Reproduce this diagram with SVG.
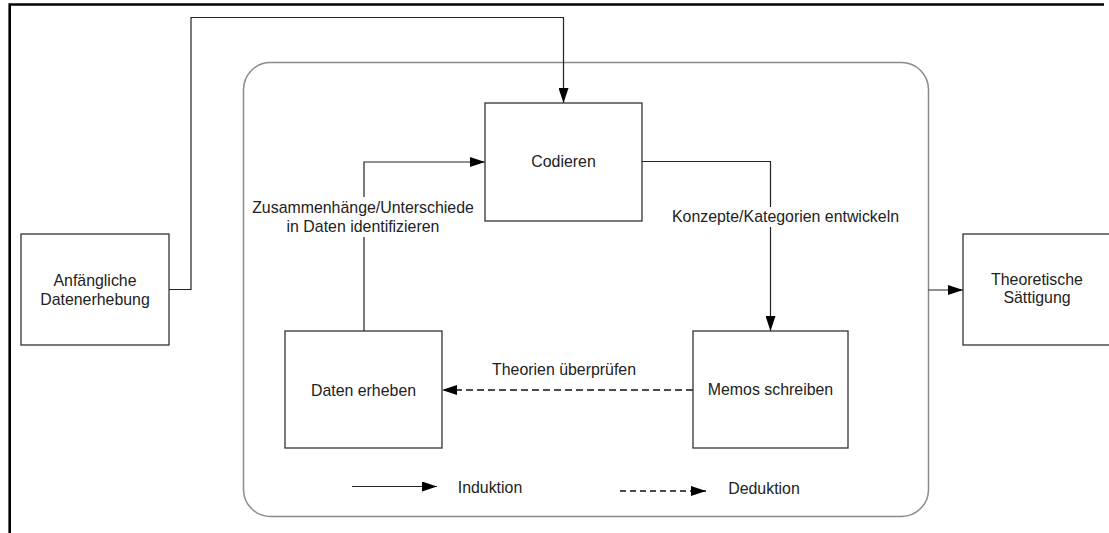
<svg xmlns="http://www.w3.org/2000/svg" width="1109" height="533" viewBox="0 0 1109 533">
  <defs>
    <marker id="arrow" viewBox="0 0 15 10" refX="15" refY="5" markerWidth="15" markerHeight="10" markerUnits="userSpaceOnUse" orient="auto">
      <path d="M0,0 L15,5 L0,10 Z" fill="#000"/>
    </marker>
    <style>
      text { font-family: "Liberation Sans", Arial, sans-serif; font-size: 15.9px; fill: #222; text-anchor: middle; }
      .box { fill: #fff; stroke: #333; stroke-width: 1.3; }
      .link { fill: none; stroke: #222; stroke-width: 1.2; }
      .dash { stroke: #111; stroke-width: 1.4; stroke-dasharray: 7 4; }
      .legdash { stroke: #111; stroke-width: 1.4; stroke-dasharray: 6 4; }
    </style>
  </defs>

  <rect width="1109" height="533" fill="#fff"/>

  <!-- page frame (top and left edges) -->
  <path d="M9.7,533 L9.7,4.5 L1104,4.5" fill="none" stroke="#000" stroke-width="2.6"/>

  <!-- iterative process container -->
  <rect id="process" x="243.5" y="62.5" width="685" height="454" rx="27" ry="27" fill="none" stroke="#8a8a8a" stroke-width="1.5"/>

  <g id="connectors">
    <!-- initial data collection into coding -->
    <path class="link" d="M169,289.5 L191,289.5 L191,17.5 L563.5,17.5 L563.5,103" marker-end="url(#arrow)"/>
    <!-- coding to memos -->
    <path class="link" d="M642,161.5 L770.5,161.5 L770.5,207"/>
    <path class="link" d="M770.5,227 L770.5,331" marker-end="url(#arrow)"/>
    <text x="785.5" y="222">Konzepte/Kategorien entwickeln</text>
    <!-- memos back to data collection -->
    <path class="link dash" d="M693,390 L442,390" marker-end="url(#arrow)"/>
    <text x="564" y="375">Theorien überprüfen</text>
    <!-- data collection to coding -->
    <path class="link" d="M364,331 L364,237"/>
    <path class="link" d="M364,197 L364,162 L485,162" marker-end="url(#arrow)"/>
    <text x="363" y="213">Zusammenhänge/Unterschiede</text>
    <text x="363" y="232">in Daten identifizieren</text>
    <!-- container to saturation -->
    <path class="link" d="M928.5,290 L963,290" marker-end="url(#arrow)"/>
  </g>

  <g id="anfaengliche">
    <rect class="box" x="21" y="234" width="148" height="111"/>
    <text x="95" y="286">Anfängliche</text>
    <text x="95" y="305">Datenerhebung</text>
  </g>

  <g id="codieren">
    <rect class="box" x="485" y="103" width="157" height="118"/>
    <text x="563.5" y="167">Codieren</text>
  </g>

  <g id="daten-erheben">
    <rect class="box" x="285" y="331" width="157" height="117"/>
    <text x="363.5" y="396">Daten erheben</text>
  </g>

  <g id="memos">
    <rect class="box" x="693" y="331" width="155" height="117"/>
    <text x="770.5" y="395">Memos schreiben</text>
  </g>

  <g id="saettigung">
    <rect class="box" x="963" y="234" width="150" height="111"/>
    <text x="1037" y="285">Theoretische</text>
    <text x="1037" y="303">Sättigung</text>
  </g>

  <g id="legend">
    <path class="link" d="M352,486.5 L437,486.5" marker-end="url(#arrow)"/>
    <text x="490" y="493">Induktion</text>
    <path class="link legdash" d="M620,491 L706,491" marker-end="url(#arrow)"/>
    <text x="764" y="494">Deduktion</text>
  </g>
</svg>
